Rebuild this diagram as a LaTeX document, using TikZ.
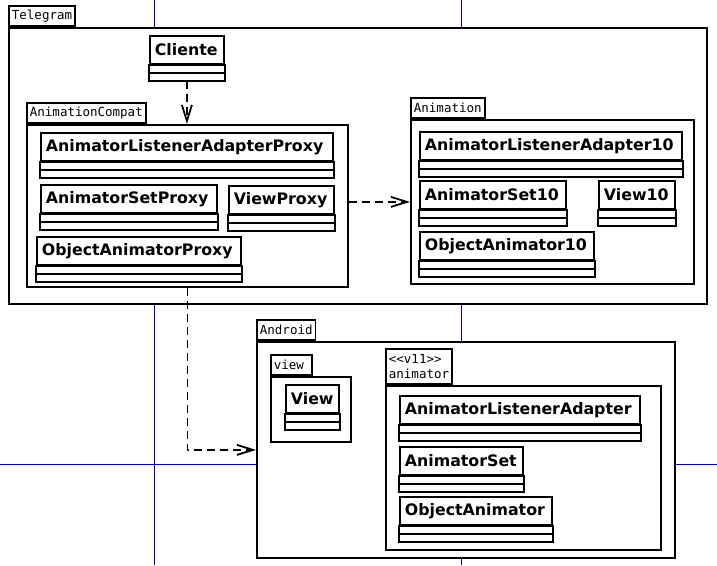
\documentclass[tikz,border=0pt]{standalone}
\usepackage{fontspec}
\setsansfont{DejaVu Sans}
\setmonofont{DejaVu Sans Mono}
\usepackage{tikz}
\usetikzlibrary{arrows.meta,positioning,calc}

% class box: name compartment, then two empty ones
\newcommand{\umlclass}[4]{%
\node[classname, text width=#3] (#1) at #2 {#4};
\draw[classline] (#1.south west) rectangle ([yshift=-16pt]#1.south east);
\draw[classline] ([yshift=-8pt]#1.south west) -- ([yshift=-8pt]#1.south east);
}

\begin{document}
\begin{tikzpicture}[x=1pt,y=-1pt,
  classname/.style={draw, fill=white, line width=1.8pt, anchor=north west, minimum height=28pt, inner xsep=5pt, inner ysep=0pt, align=left, font=\sffamily\bfseries\fontsize{15.8}{18}\selectfont},
  classline/.style={line width=1.8pt, fill=white},
  pkgbody/.style={draw, fill=white, line width=1.8pt, anchor=north west, inner sep=0pt},
  pkgtab/.style={draw, fill=white, line width=1.8pt, anchor=south west, inner xsep=3pt, inner ysep=0pt, minimum height=20pt, align=left, font=\ttfamily\fontsize{12.5}{15}\selectfont},
  dep/.style={line width=1.8pt, dash pattern=on 8pt off 5pt, -{Straight Barb[length=16pt,width=10pt,line width=1.8pt]}},
  guide/.style={draw=blue!70!black, line width=1pt}]
\useasboundingbox (0,0) rectangle (717,565);
\fill[white] (0,0) rectangle (717,565);

% guide lines
\draw[guide] (154.5,0) -- (154.5,565);
\draw[guide] (461.5,0) -- (461.5,565);
\draw[guide] (0,464.5) -- (717,464.5);

% Telegram
\node[pkgbody, minimum width=698pt, minimum height=276pt] (telegram) at (8,27) {};
\node[pkgtab] (telegram-tab) at (telegram.north west) {Telegram};

\umlclass{cliente}{(149,35)}{64pt}{Cliente}

\node[pkgbody, minimum width=321pt, minimum height=162pt] (ac) at (26,124) {};
\node[pkgtab] (ac-tab) at (ac.north west) {AnimationCompat};
\umlclass{alaproxy}{(40,132)}{282pt}{AnimatorListenerAdapterProxy}
\umlclass{asproxy}{(40,184)}{166pt}{AnimatorSetProxy}
\umlclass{vproxy}{(228,185)}{95pt}{ViewProxy}
\umlclass{oaproxy}{(36,236)}{194pt}{ObjectAnimatorProxy}

\node[pkgbody, minimum width=283pt, minimum height=164pt] (anim) at (410,119) {};
\node[pkgtab] (anim-tab) at (anim.north west) {Animation};
\umlclass{ala10}{(419,131)}{252pt}{AnimatorListenerAdapter10}
\umlclass{as10}{(419,180)}{136pt}{AnimatorSet10}
\umlclass{v10}{(598,180)}{66pt}{View10}
\umlclass{oa10}{(419,231)}{164pt}{ObjectAnimator10}

% Android
\node[pkgbody, minimum width=418pt, minimum height=216pt] (android) at (256,341) {};
\node[pkgtab] (android-tab) at (android.north west) {Android};

\node[pkgbody, minimum width=80pt, minimum height=65pt] (viewpkg) at (270,376) {};
\node[pkgtab, text width=35pt] (viewpkg-tab) at (viewpkg.north west) {view};
\umlclass{view}{(285,384)}{43pt}{View}

\node[pkgbody, minimum width=275pt, minimum height=164pt] (animator) at (385,385) {};
\node[pkgtab, minimum height=35pt, inner ysep=2pt] (animator-tab) at (animator.north west) {<{}<v11>{}>\\animator};
\umlclass{ala}{(399,395)}{230pt}{AnimatorListenerAdapter}
\umlclass{as}{(399,446)}{113pt}{AnimatorSet}
\umlclass{oa}{(399,496)}{142pt}{ObjectAnimator}

% dependencies
\draw[dep] ([yshift=-16pt]cliente.south) -- (cliente.south |- ac.north);
\draw[dep] (ac.east |- anim.west) -- (anim.west);
\draw[dep] (ac.south) |- (android.west);
\end{tikzpicture}
\end{document}
